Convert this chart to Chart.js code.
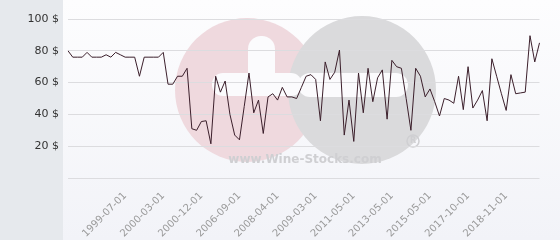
<!DOCTYPE html>
<html>
<head>
<meta charset="utf-8">
<script src="https://cdn.jsdelivr.net/npm/chart.js@4"></script>
<style>
  html, body { margin: 0; padding: 0; background: #fff; }
  #wrap { width: 560px; height: 240px; }
</style>
</head>
<body>
<div id="wrap"><canvas id="priceChart" width="560" height="240"></canvas></div>
<script>
// Price history (one value per auction date)
const prices = [
  80, 76, 76, 76, 79, 76, 76, 76, 77.5, 76,
  79, 77.5, 76, 76, 76, 64, 76, 76, 76, 76,
  79, 59, 59, 64, 64, 69, 31, 30, 35.5, 36,
  21.5, 64, 54, 61, 40, 27, 24, 45, 66, 41,
  49, 28, 51, 53, 49, 57, 51, 51, 50, 57,
  64, 65, 62, 36, 73, 62, 66.5, 80.5, 27, 49,
  23, 66, 41, 69, 48, 63, 68, 37, 74, 70,
  69, 50, 30, 69, 64, 51, 56, 48, 39, 50,
  49, 47, 64, 43, 70, 44, 49, 55, 36, 75,
  64, 53, 42.5, 65, 53, 53.5, 54, 89.5, 73, 85
];

// Dates visible on the x axis (every 8th point starting at point 12)
const tickDates = [
  '1999-07-01', '2000-03-01', '2000-12-01', '2006-09-01', '2008-04-01', '2009-03-01',
  '2011-05-01', '2013-05-01', '2015-05-01', '2017-10-01', '2018-11-01'
];
const firstTick = 12;
const tickStep = 8;

const yTicks = [0, 20, 40, 60, 80, 100];

const labels = prices.map(function(_, i) {
  const k = (i - firstTick) / tickStep;
  return (i >= firstTick && Number.isInteger(k) && tickDates[k]) ? tickDates[k] : '';
});

// Background panels + watermark
const backdrop = {
  id: 'backdrop',
  beforeDraw(chart) {
    const ctx = chart.ctx;
    const w = chart.width, h = chart.height;
    ctx.save();
    const g = ctx.createLinearGradient(0, 0, 0, h);
    g.addColorStop(0, '#fdfdfe');
    g.addColorStop(1, '#f2f3f8');
    ctx.fillStyle = g;
    ctx.fillRect(0, 0, w, h);
    ctx.fillStyle = '#e6e9ed';
    ctx.fillRect(0, 0, 63, h);

    // watermark logo
    ctx.fillStyle = '#efd9de';
    ctx.beginPath();
    ctx.arc(247, 90, 72, 0, Math.PI * 2);
    ctx.fill();
    ctx.fillStyle = '#dadadc';
    ctx.beginPath();
    ctx.arc(362, 90, 74, 0, Math.PI * 2);
    ctx.fill();

    ctx.fillStyle = '#fbfbfd';
    ctx.beginPath();
    ctx.roundRect(248, 36, 27, 60, 13);
    ctx.fill();
    ctx.beginPath();
    ctx.roundRect(212, 73, 90, 23, 11);
    ctx.fill();
    ctx.beginPath();
    ctx.roundRect(298, 73, 110, 24, 12);
    ctx.fill();

    ctx.fillStyle = '#cfcfd2';
    ctx.font = 'bold 12px "DejaVu Sans", sans-serif';
    ctx.textAlign = 'center';
    ctx.textBaseline = 'middle';
    ctx.fillText('www.Wine-Stocks.com', 305, 160);
    ctx.strokeStyle = '#cfcfd2';
    ctx.lineWidth = 1.5;
    ctx.beginPath();
    ctx.arc(413, 141, 6, 0, Math.PI * 2);
    ctx.stroke();
    ctx.font = 'bold 8px "DejaVu Sans", sans-serif';
    ctx.fillText('R', 413, 141);
    ctx.restore();
  }
};

const ctx = document.getElementById('priceChart').getContext('2d');
new Chart(ctx, {
  type: 'line',
  data: {
    labels: labels,
    datasets: [{
      data: prices,
      borderColor: '#3b1f2b',
      borderWidth: 1,
      pointRadius: 0,
      tension: 0,
      fill: false
    }]
  },
  options: {
    responsive: false,
    animation: false,
    events: [],
    layout: { padding: { top: 19, right: 6, left: 0, bottom: 0 } },
    plugins: {
      legend: { display: false },
      tooltip: { enabled: false }
    },
    scales: {
      x: {
        offset: false,
        grid: { display: false, drawTicks: false },
        border: { display: false },
        ticks: {
          autoSkip: false,
          minRotation: 45,
          maxRotation: 45,
          padding: 12,
          color: '#9a9a9a',
          font: { family: '"DejaVu Sans", sans-serif', size: 10 }
        },
        afterFit(scale) { scale.height = 62; }
      },
      y: {
        min: yTicks[0],
        max: yTicks[yTicks.length - 1],
        grid: { color: '#dcdcdf', drawTicks: false },
        border: { display: false },
        ticks: {
          stepSize: 20,
          padding: 9,
          color: '#333',
          font: { family: '"DejaVu Sans", sans-serif', size: 11 },
          callback: function(value) {
            return value === 0 ? '' : value + ' $';
          }
        },
        afterFit(scale) { scale.width = 68; }
      }
    }
  },
  plugins: [backdrop]
});
</script>
</body>
</html>
